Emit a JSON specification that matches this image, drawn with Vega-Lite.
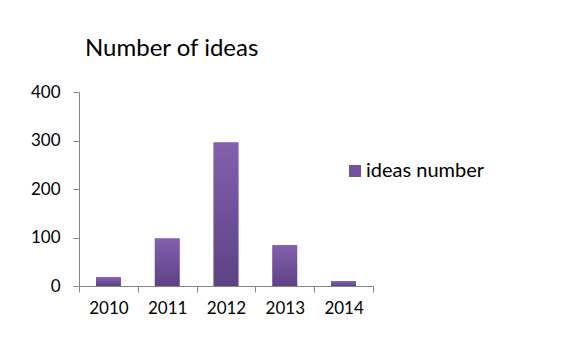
{
  "$schema": "https://vega.github.io/schema/vega-lite/v6.json",
  "autosize": {"type": "none"},
  "width": 294,
  "height": 194,
  "padding": {"left": 79, "top": 92, "right": 203, "bottom": 55},
  "background": "white",
  "title": {
    "text": "Number of ideas",
    "anchor": "start",
    "frame": "group",
    "dx": 6,
    "offset": 22,
    "font": "Lato",
    "fontSize": 24,
    "fontWeight": "normal",
    "color": "#000000"
  },
  "data": {
    "values": [
      {"year": "2010", "ideas": 18, "series": "ideas number"},
      {"year": "2011", "ideas": 98, "series": "ideas number"},
      {"year": "2012", "ideas": 296, "series": "ideas number"},
      {"year": "2013", "ideas": 84, "series": "ideas number"},
      {"year": "2014", "ideas": 10, "series": "ideas number"}
    ]
  },
  "encoding": {
    "x": {
      "field": "year",
      "type": "nominal",
      "scale": {"paddingInner": 0, "paddingOuter": 0},
      "axis": {
        "title": null,
        "labelAngle": 0,
        "tickBand": "extent",
        "domainColor": "#868686",
        "tickColor": "#868686",
        "tickSize": 6,
        "labelFont": "Lato",
        "labelFontSize": 17,
        "labelColor": "#000000",
        "labelPadding": 8
      }
    },
    "y": {
      "field": "ideas",
      "type": "quantitative",
      "scale": {"domain": [0, 400], "nice": false},
      "axis": {
        "title": null,
        "values": [0, 100, 200, 300, 400],
        "grid": false,
        "domainColor": "#868686",
        "tickColor": "#868686",
        "tickSize": 6,
        "labelFont": "Lato",
        "labelFontSize": 17,
        "labelColor": "#000000",
        "labelPadding": 13
      }
    }
  },
  "layer": [
    {
      "mark": {"type": "bar", "width": {"band": 0.42}},
      "encoding": {
        "color": {
          "field": "series",
          "type": "nominal",
          "scale": {"range": ["#7253a0"]},
          "legend": {
            "title": null,
            "orient": "none",
            "legendX": 266,
            "legendY": 69,
            "symbolType": "square",
            "symbolSize": 144,
            "symbolStrokeWidth": 0,
            "symbolOpacity": 1,
            "labelFont": "Lato",
            "labelFontSize": 20,
            "labelColor": "#000000",
            "labelOffset": 1
          }
        }
      }
    },
    {
      "mark": {
        "type": "bar",
        "width": {"band": 0.42},
        "fill": {
          "gradient": "linear", "x1": 0, "y1": 0, "x2": 0, "y2": 1,
          "stops": [{"offset": 0, "color": "#8460ae"}, {"offset": 1, "color": "#5d4284"}]
        }
      }
    }
  ],
  "config": {"view": {"stroke": null}}
}
